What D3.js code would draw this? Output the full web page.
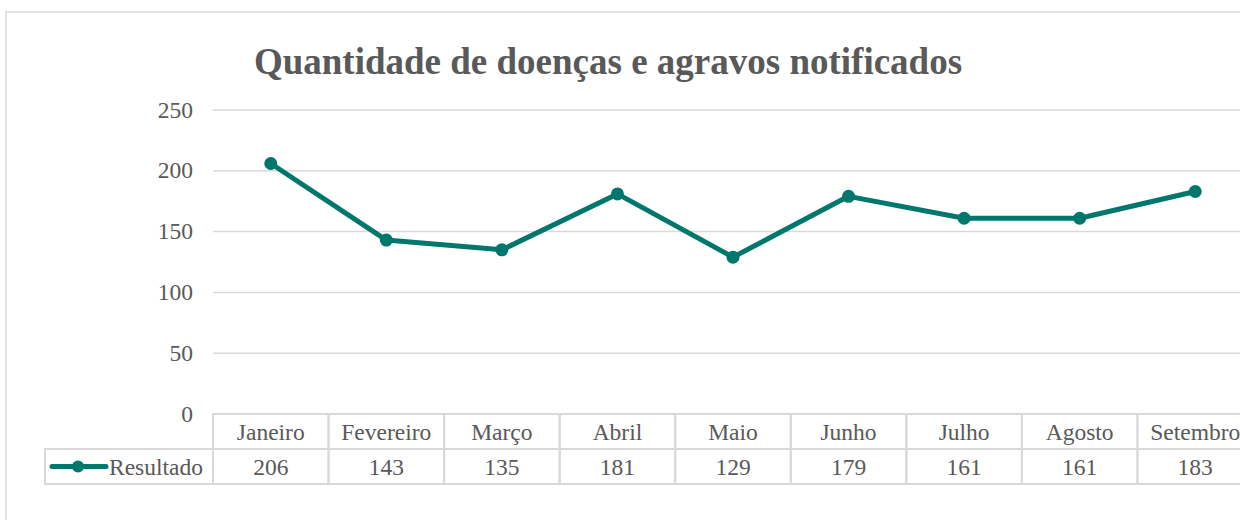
<!DOCTYPE html>
<html>
<head>
<meta charset="utf-8">
<script src="https://cdn.jsdelivr.net/npm/d3@7"></script>
<style>
  html, body { margin: 0; padding: 0; background: #fff; }
  svg { display: block; }
  text { font-family: "Liberation Serif", "Times New Roman", serif; fill: #595959; }
</style>
</head>
<body>
<div id="main"></div>
<script>
var width = 1240,
    height = 520;

var months = ["Janeiro", "Fevereiro", "Março", "Abril", "Maio", "Junho", "Julho", "Agosto", "Setembro"];
var values = [206, 143, 135, 181, 129, 179, 161, 161, 183];
var yTicks = [0, 50, 100, 150, 200, 250];
var seriesName = "Resultado";
var title = "Quantidade de doenças e agravos notificados";

var LINE_COLOR = "#00776d",
    GRID_COLOR = "#d9d9d9",
    FONT_SIZE = 23.5;

var plot = { left: 213, right: 1253, top: 110, bottom: 414 };
var rowH = 35;

var svg = d3.select("div#main").append("svg")
    .attr("width", width)
    .attr("height", height);

// outer chart border
svg.append("rect")
    .attr("x", 6).attr("y", 12)
    .attr("width", 1300).attr("height", 600)
    .attr("fill", "none")
    .attr("stroke", GRID_COLOR)
    .attr("stroke-width", 1.5);

var x = d3.scaleBand()
    .domain(months)
    .range([plot.left, plot.right]);

var y = d3.scaleLinear()
    .domain([0, 250])
    .range([plot.bottom, plot.top]);

// gridlines
svg.append("g").selectAll("line")
    .data(yTicks)
    .enter().append("line")
    .attr("x1", plot.left).attr("x2", plot.right)
    .attr("y1", function(d) { return y(d); })
    .attr("y2", function(d) { return y(d); })
    .attr("stroke", GRID_COLOR)
    .attr("stroke-width", 1.5);

// y axis labels
var yAxis = d3.axisLeft(y).tickValues(yTicks).tickSize(0).tickPadding(0);
var ya = svg.append("g")
    .attr("transform", "translate(193,0)")
    .call(yAxis);
ya.select(".domain").remove();
ya.selectAll("text")
    .attr("font-size", FONT_SIZE)
    .attr("dy", "0.3em")
    .style("font-family", "Liberation Serif, serif")
    .attr("fill", "#595959");

// title
svg.append("text")
    .attr("x", 608).attr("y", 74)
    .attr("text-anchor", "middle")
    .attr("font-size", 37)
    .attr("font-weight", "bold")
    .text(title);

// data table
var table = svg.append("g");

table.selectAll("rect.head")
    .data(months)
    .enter().append("rect")
    .attr("class", "head")
    .attr("x", function(d) { return x(d); })
    .attr("y", plot.bottom)
    .attr("width", x.bandwidth())
    .attr("height", rowH)
    .attr("fill", "none")
    .attr("stroke", GRID_COLOR)
    .attr("stroke-width", 2);

table.selectAll("rect.val")
    .data(months)
    .enter().append("rect")
    .attr("class", "val")
    .attr("x", function(d) { return x(d); })
    .attr("y", plot.bottom + rowH)
    .attr("width", x.bandwidth())
    .attr("height", rowH)
    .attr("fill", "none")
    .attr("stroke", GRID_COLOR)
    .attr("stroke-width", 2);

table.append("rect")
    .attr("x", 45)
    .attr("y", plot.bottom + rowH)
    .attr("width", plot.left - 45)
    .attr("height", rowH)
    .attr("fill", "none")
    .attr("stroke", GRID_COLOR)
    .attr("stroke-width", 2);

table.selectAll("text.head")
    .data(months)
    .enter().append("text")
    .attr("class", "head")
    .attr("x", function(d) { return x(d) + x.bandwidth() / 2; })
    .attr("y", plot.bottom + 26)
    .attr("text-anchor", "middle")
    .attr("font-size", FONT_SIZE)
    .text(function(d) { return d; });

table.selectAll("text.val")
    .data(values)
    .enter().append("text")
    .attr("class", "val")
    .attr("x", function(d, i) { return x(months[i]) + x.bandwidth() / 2; })
    .attr("y", plot.bottom + rowH + 26)
    .attr("text-anchor", "middle")
    .attr("font-size", FONT_SIZE)
    .text(function(d) { return d; });

// legend key in table
var ly = plot.bottom + rowH + rowH / 2;
table.append("line")
    .attr("x1", 52).attr("x2", 106)
    .attr("y1", ly).attr("y2", ly)
    .attr("stroke", LINE_COLOR)
    .attr("stroke-width", 5)
    .attr("stroke-linecap", "round");
table.append("circle")
    .attr("cx", 78).attr("cy", ly)
    .attr("r", 6)
    .attr("fill", LINE_COLOR);
table.append("text")
    .attr("x", 109)
    .attr("y", plot.bottom + rowH + 26)
    .attr("font-size", FONT_SIZE)
    .text(seriesName);

// series
var line = d3.line()
    .x(function(d, i) { return x(months[i]) + x.bandwidth() / 2; })
    .y(function(d) { return y(d); });

svg.append("path")
    .datum(values)
    .attr("d", line)
    .attr("fill", "none")
    .attr("stroke", LINE_COLOR)
    .attr("stroke-width", 5)
    .attr("stroke-linejoin", "round")
    .attr("stroke-linecap", "round");

svg.selectAll("circle.pt")
    .data(values)
    .enter().append("circle")
    .attr("class", "pt")
    .attr("cx", function(d, i) { return x(months[i]) + x.bandwidth() / 2; })
    .attr("cy", function(d) { return y(d); })
    .attr("r", 6.5)
    .attr("fill", LINE_COLOR);
</script>
</body>
</html>
